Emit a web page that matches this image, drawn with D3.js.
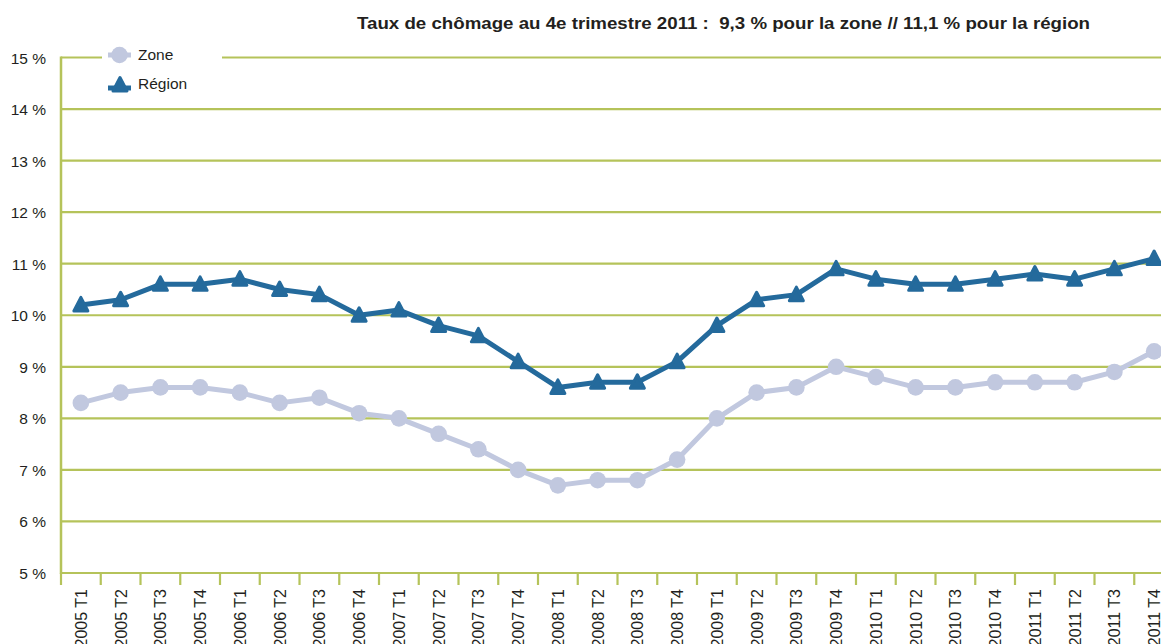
<!DOCTYPE html>
<html>
<head>
<meta charset="utf-8">
<script src="https://cdn.jsdelivr.net/npm/d3@7/dist/d3.min.js"></script>
<style>
  body { margin: 0; background: #fff; }
  text { font-family: "Liberation Sans", Arial, sans-serif; fill: #231f20; }
</style>
</head>
<body>
<div id="chart"></div>
<script>
// Data
const quarters = [
  "2005 T1", "2005 T2", "2005 T3", "2005 T4",
  "2006 T1", "2006 T2", "2006 T3", "2006 T4",
  "2007 T1", "2007 T2", "2007 T3", "2007 T4",
  "2008 T1", "2008 T2", "2008 T3", "2008 T4",
  "2009 T1", "2009 T2", "2009 T3", "2009 T4",
  "2010 T1", "2010 T2", "2010 T3", "2010 T4",
  "2011 T1", "2011 T2", "2011 T3", "2011 T4"
];
const zoneValues = [
  8.3, 8.5, 8.6, 8.6, 8.5, 8.3, 8.4, 8.1, 8.0, 7.7, 7.4, 7.0, 6.7, 6.8,
  6.8, 7.2, 8.0, 8.5, 8.6, 9.0, 8.8, 8.6, 8.6, 8.7, 8.7, 8.7, 8.9, 9.3
];
const regionValues = [
  10.2, 10.3, 10.6, 10.6, 10.7, 10.5, 10.4, 10.0, 10.1, 9.8, 9.6, 9.1, 8.6, 8.7,
  8.7, 9.1, 9.8, 10.3, 10.4, 10.9, 10.7, 10.6, 10.6, 10.7, 10.8, 10.7, 10.9, 11.1
];
const yTicks = [5, 6, 7, 8, 9, 10, 11, 12, 13, 14, 15];
const titleText = "Taux de chômage au 4e trimestre 2011 :  9,3 % pour la zone // 11,1 % pour la région";

// Dimensions
const width = 1161;
const height = 644;
const plotLeft = 61, plotRight = 61 + 28 * 39.75;
const plotTop = 57.5, plotBottom = 573;

const gridColor = "#b5c35a";
const zoneColor = "#c1c8df";
const regionColor = "#246a9c";

const svg = d3.select("#chart")
  .append("svg")
  .attr("width", width)
  .attr("height", height);

// Scales
const x = d3.scaleBand().domain(quarters).range([plotLeft, plotRight]);
const y = d3.scaleLinear().domain([5, 15]).range([plotBottom, plotTop]);
const cx = (d) => x(d) + x.bandwidth() / 2;

// Gridlines
svg.append("g")
  .selectAll("line")
  .data(yTicks)
  .join("line")
  .attr("x1", plotLeft)
  .attr("x2", plotRight)
  .attr("y1", (d) => y(d))
  .attr("y2", (d) => y(d))
  .attr("stroke", gridColor)
  .attr("stroke-width", 2.2);

// Y axis line + labels
svg.append("line")
  .attr("x1", plotLeft).attr("x2", plotLeft)
  .attr("y1", y(15) - 1).attr("y2", y(5) + 1)
  .attr("stroke", gridColor)
  .attr("stroke-width", 2.5);

svg.append("g")
  .selectAll("text")
  .data(yTicks)
  .join("text")
  .attr("x", 46)
  .attr("y", (d) => y(d) + 6)
  .attr("text-anchor", "end")
  .style("font-size", "15.5px")
  .text((d) => d + " %");

// X ticks (category boundaries)
svg.append("g")
  .selectAll("line")
  .data(quarters)
  .join("line")
  .attr("x1", (d) => x(d))
  .attr("x2", (d) => x(d))
  .attr("y1", plotBottom)
  .attr("y2", plotBottom + 12)
  .attr("stroke", gridColor)
  .attr("stroke-width", 2.2);

svg.append("line")
  .attr("x1", plotRight).attr("x2", plotRight)
  .attr("y1", plotBottom).attr("y2", plotBottom + 12)
  .attr("stroke", gridColor)
  .attr("stroke-width", 2.2);

// X labels, rotated
svg.append("g")
  .selectAll("text")
  .data(quarters)
  .join("text")
  .attr("transform", (d) => `translate(${cx(d) + 6}, 589) rotate(-90)`)
  .attr("text-anchor", "end")
  .style("font-size", "16px")
  .text((d) => d);

// Lines
const line = d3.line()
  .x((d, i) => cx(quarters[i]))
  .y((d) => y(d));

svg.append("path")
  .datum(zoneValues)
  .attr("d", line)
  .attr("fill", "none")
  .attr("stroke", zoneColor)
  .attr("stroke-width", 5)
  .attr("stroke-linejoin", "round");

svg.append("g")
  .selectAll("circle")
  .data(zoneValues)
  .join("circle")
  .attr("cx", (d, i) => cx(quarters[i]))
  .attr("cy", (d) => y(d))
  .attr("r", 8.3)
  .attr("fill", zoneColor);

svg.append("path")
  .datum(regionValues)
  .attr("d", line)
  .attr("fill", "none")
  .attr("stroke", regionColor)
  .attr("stroke-width", 5)
  .attr("stroke-linejoin", "round");

const tri = "M0,-7.5 L7,6 L-7,6 Z";
svg.append("g")
  .selectAll("path")
  .data(regionValues)
  .join("path")
  .attr("transform", (d, i) => `translate(${cx(quarters[i])}, ${y(d)})`)
  .attr("d", tri)
  .attr("fill", regionColor)
  .attr("stroke", regionColor)
  .attr("stroke-width", 3)
  .attr("stroke-linejoin", "round");

// Legend
const legend = svg.append("g");
legend.append("rect")
  .attr("x", 102).attr("y", 44)
  .attr("width", 120).attr("height", 56)
  .attr("fill", "#fff");

legend.append("line")
  .attr("x1", 108).attr("x2", 131).attr("y1", 55).attr("y2", 55)
  .attr("stroke", zoneColor).attr("stroke-width", 5);
legend.append("circle")
  .attr("cx", 119.5).attr("cy", 55).attr("r", 8.3)
  .attr("fill", zoneColor);
legend.append("text")
  .attr("x", 138).attr("y", 60)
  .style("font-size", "15.5px")
  .text("Zone");

legend.append("line")
  .attr("x1", 108).attr("x2", 131).attr("y1", 88).attr("y2", 88)
  .attr("stroke", regionColor).attr("stroke-width", 5);
legend.append("path")
  .attr("transform", "translate(120, 85)")
  .attr("d", tri)
  .attr("fill", regionColor)
  .attr("stroke", regionColor)
  .attr("stroke-width", 3)
  .attr("stroke-linejoin", "round");
legend.append("text")
  .attr("x", 138).attr("y", 88.5)
  .style("font-size", "15.5px")
  .text("Région");

// Title
svg.append("text")
  .attr("x", 357)
  .attr("y", 29)
  .attr("textLength", 733)
  .attr("lengthAdjust", "spacingAndGlyphs")
  .style("white-space", "pre")
  .style("font-size", "16.5px")
  .style("font-weight", "bold")
  .text(titleText);
</script>
</body>
</html>
